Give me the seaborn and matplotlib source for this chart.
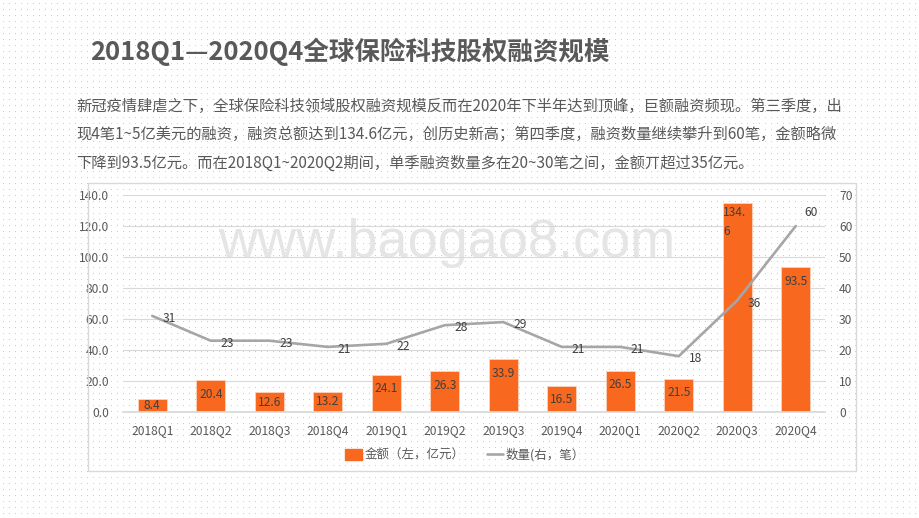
import numpy as np
import pandas as pd
import seaborn as sns
import matplotlib.pyplot as plt
from matplotlib.patches import Patch, Rectangle
from matplotlib.lines import Line2D

# data
quarters = ['2018Q1', '2018Q2', '2018Q3', '2018Q4', '2019Q1', '2019Q2',
            '2019Q3', '2019Q4', '2020Q1', '2020Q2', '2020Q3', '2020Q4']
amounts = [8.4, 20.4, 12.6, 13.2, 24.1, 26.3, 33.9, 16.5, 26.5, 21.5, 134.6, 93.5]
counts = [31, 23, 23, 21, 22, 28, 29, 21, 21, 18, 36, 60]

title = '2018Q1—2020Q4全球保险科技股权融资规模'
intro = ['新冠疫情肆虐之下，全球保险科技领域股权融资规模反而在2020年下半年达到顶峰，巨额融资频现。第三季度，出',
         '现4笔1~5亿美元的融资，融资总额达到134.6亿元，创历史新高；第四季度，融资数量继续攀升到60笔，金额略微',
         '下降到93.5亿元。而在2018Q1~2020Q2期间，单季融资数量多在20~30笔之间，金额丌超过35亿元。']
legend_labels = ['金额（左，亿元）', '数量(右，笔）']

orange = '#F8691F'
grey_line = '#A6A6A6'
txt = '#595959'

sns.set_theme(style='white')
plt.rcParams['font.family'] = ['Noto Sans CJK SC', 'DejaVu Sans']

W, H = 920, 518
fig = plt.figure(figsize=(W / 100, H / 100), dpi=100)

# dotted slide background
bg = np.ones((H, W, 3))
bg[3::6, 3::6] = [0.85, 0.79, 0.79]
fig.figimage(bg, xo=0, yo=0, zorder=-10)

def fx(px):
    return px / W

def fy(py):
    return 1 - py / H

fig.text(fx(90), fy(52), title, fontsize=18.4, fontweight='bold', color=txt,
         ha='left', va='center')
for k, line in enumerate(intro):
    fig.text(fx(76), fy(106 + k * 28.5), line, fontsize=11, color=txt,
             ha='left', va='center')

# chart panel frame
fig.add_artist(Rectangle((fx(88), fy(471)), fx(856 - 88), (471 - 183) / H,
                         transform=fig.transFigure, fill=False,
                         edgecolor='#D9D9D9', lw=1))

fig.text(fx(447), fy(243), 'www.baogao8.com', fontsize=39, color='#E5E5E5',
         family='Liberation Sans', ha='center', va='center', zorder=-5)

ax = fig.add_axes([fx(123), fy(412), fx(825 - 123), (412 - 195) / H])
ax.patch.set_visible(False)

df = pd.DataFrame({'quarter': quarters, 'amount': amounts, 'count': counts})
sns.barplot(data=df, x='quarter', y='amount', color=orange, saturation=1,
            width=0.5, edgecolor='#FBD3BC', linewidth=0.6, ax=ax)
ax.set_ylim(0, 140)
ax.set_yticks(np.arange(0, 141, 20))
ax.set_yticklabels([f'{v:.1f}' for v in np.arange(0, 141, 20)])
ax.set_axisbelow(True)
ax.grid(axis='y', color='#D9D9D9', lw=0.8)
ax.set_xlabel('')
ax.set_ylabel('')
for s in ['top', 'left', 'right']:
    ax.spines[s].set_visible(False)
ax.spines['bottom'].set_color('#D9D9D9')
ax.tick_params(axis='x', length=0, pad=9, labelsize=8.7, labelcolor=txt)
ax.tick_params(axis='y', length=0, pad=10, labelsize=8.7, labelcolor=txt)

for i, v in enumerate(amounts):
    if v > 120:
        ax.text(i - 0.24, v - 1.5, '134.\n6', ha='left', va='top', fontsize=8.7,
                color='#404040', linespacing=1.6)
    else:
        ax.text(i, max(v - 9, v / 2), f'{v}', ha='center', va='center',
                fontsize=8.7, color='#404040')

ax2 = ax.twinx()
ax2.patch.set_visible(False)
x_pos = np.arange(len(quarters))
sns.lineplot(x=x_pos, y=counts, color=grey_line, linewidth=1.9, ax=ax2)
ax2.set_ylim(0, 70)
ax2.set_yticks(np.arange(0, 71, 10))
ax2.set_xlabel('')
ax2.set_ylabel('')
for s in ax2.spines.values():
    s.set_visible(False)
ax2.tick_params(axis='y', length=0, pad=10, labelsize=8.7, labelcolor=txt)
ax.set_xlim(-0.5, len(quarters) - 0.5)

for i, v in enumerate(counts):
    off = (11, 10) if i == len(counts) - 1 else (12, -2)
    ax2.annotate(str(v), (i, v), xytext=off, textcoords='offset points',
                 ha='center', va='center', fontsize=8.7, color='#404040')

handles = [Patch(facecolor=orange, edgecolor=orange),
           Line2D([0], [0], color=grey_line, lw=1.9)]
fig.legend(handles, legend_labels, loc='center', bbox_to_anchor=(fx(465), fy(455)),
           ncol=2, frameon=False, fontsize=9, labelcolor=txt, handlelength=1.3,
           handleheight=0.9, handletextpad=0.2, columnspacing=1.8)

fig.savefig('out.png', dpi=100)
